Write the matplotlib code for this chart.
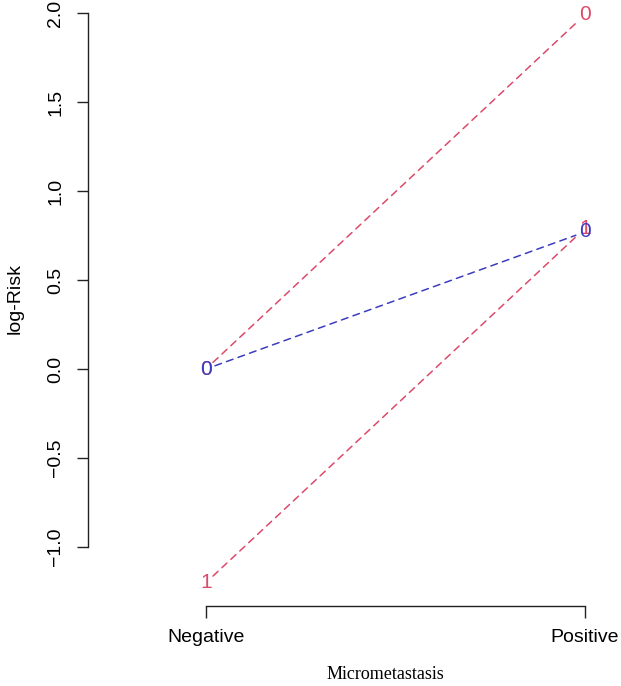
"""Interaction plot of log-risk by micrometastasis status."""

import matplotlib
matplotlib.use("Agg")
import matplotlib.pyplot as plt

# data
levels = ["Negative", "Positive"]
red_0 = [0.0, 1.99]
red_1 = [-1.20, 0.79]
blue_0 = [0.0, 0.77]
y_ticks = [-1.0, -0.5, 0.0, 0.5, 1.0, 1.5, 2.0]

RED = "#DC4A6A"
BLUE = "#3C3CC0"

plt.rcParams["font.family"] = ["Liberation Sans", "DejaVu Sans"]

fig = plt.figure(figsize=(6.21, 6.86), dpi=100)
# plot region runs a bit past the top and right edge, as in the cropped original
ax = fig.add_axes([88 / 621, 80 / 686, 594 / 621, 616 / 686])

xs = [1, 2]


def trace(values, label, color):
    ax.annotate(
        "", xy=(xs[1], values[1]), xytext=(xs[0], values[0]),
        arrowprops=dict(arrowstyle="-", shrinkA=7, shrinkB=7, color=color,
                        linestyle=(0, (4.5, 3.5)), linewidth=1.1),
    )
    for x, y in zip(xs, values):
        ax.text(x, y, label, color=color, fontsize=15, ha="center",
                va="center", clip_on=False)


trace(red_0, "0", RED)
trace(red_1, "1", RED)
trace(blue_0, "0", BLUE)

ax.set_xlim(0.689, 2.256)
ax.set_ylim(-1.331, 2.129)

for side in ("top", "right"):
    ax.spines[side].set_visible(False)
ax.spines["left"].set_bounds(y_ticks[0], y_ticks[-1])
ax.spines["bottom"].set_bounds(xs[0], xs[-1])
for side in ("left", "bottom"):
    ax.spines[side].set_linewidth(1.0)
    ax.spines[side].set_color("#222222")

ax.set_xticks(xs)
ax.set_xticklabels(levels, fontsize=14)
ax.set_yticks(y_ticks)
ax.set_yticklabels([f"{v:.1f}".replace("-", "\u2212") for v in y_ticks],
                   fontsize=14, rotation=90, va="center")
ax.tick_params(axis="x", length=8.5, width=1.0, pad=8, color="#222222")
ax.tick_params(axis="y", length=8, width=1.0, pad=9, color="#222222")

ax.set_xlabel("Micrometastasis", family="Liberation Serif", fontsize=13)
ax.xaxis.set_label_coords(0.5, -0.112)
ax.xaxis.label.set_verticalalignment("center")
ax.set_ylabel("log-Risk", fontsize=14)
ax.yaxis.set_label_coords(-0.123, 0.5)
ax.yaxis.label.set_verticalalignment("center")

fig.savefig("out.png", dpi=100)
plt.close(fig)
